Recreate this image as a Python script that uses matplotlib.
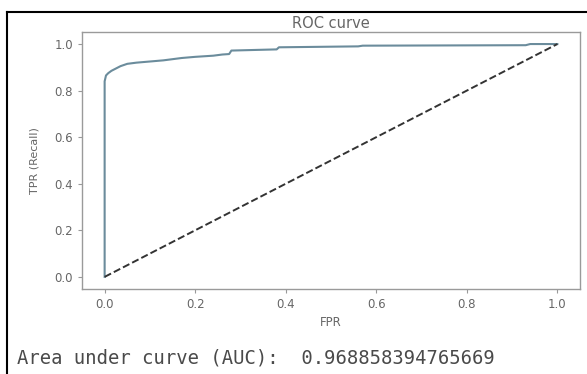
import matplotlib
matplotlib.use("Agg")
import matplotlib.pyplot as plt
from matplotlib.lines import Line2D

# ROC curve points
fpr = [0.0, 0.0, 0.003, 0.008, 0.015, 0.025, 0.035, 0.05, 0.07, 0.10, 0.13, 0.17,
       0.20, 0.24, 0.26, 0.275, 0.28, 0.38, 0.385, 0.56, 0.57, 0.93, 0.94, 1.0]
tpr = [0.0, 0.84, 0.865, 0.875, 0.885, 0.895, 0.905, 0.915, 0.92, 0.925, 0.93, 0.94,
       0.945, 0.95, 0.955, 0.957, 0.972, 0.977, 0.986, 0.99, 0.993, 0.995, 1.0, 1.0]
diag = [0.0, 1.0]
xticks = [0.0, 0.2, 0.4, 0.6, 0.8, 1.0]
yticks = [0.0, 0.2, 0.4, 0.6, 0.8, 1.0]
auc_value = "0.968858394765669"

W, H = 587, 374
fig = plt.figure(figsize=(W / 100, H / 100), dpi=100)
fig.patch.set_facecolor("white")

ax = fig.add_axes([82 / W, 1 - 288.5 / H, (580 - 82) / W, (288.5 - 32.4) / H])
ax.plot(fpr, tpr, color="#6b8c9c", lw=1.5)
ax.plot(diag, diag, color="#333333", ls="--", lw=1.4)
ax.set_xlim(-0.05, 1.05)
ax.set_ylim(-0.05, 1.05)
ax.set_xticks(xticks)
ax.set_yticks(yticks)
ax.set_xticklabels([f"{t:.1f}" for t in xticks])
ax.set_yticklabels([f"{t:.1f}" for t in yticks])
tc = "#666666"
ax.tick_params(colors="#999999", labelcolor=tc, labelsize=8.5, length=3, width=0.8)
for s in ax.spines.values():
    s.set_color("#9a9a9a")
    s.set_linewidth(1.0)
ax.set_title("ROC curve", fontsize=10.5, color="#666666", pad=3)
ax.set_xlabel("FPR", fontsize=8.5, color=tc, labelpad=4)
ax.set_ylabel("TPR (Recall)", fontsize=8, color=tc, labelpad=11)

fig.text(17 / W, 1 - 358 / H, "Area under curve (AUC):  " + auc_value,
         family="DejaVu Sans Mono", fontsize=13.6, color="#4a4a4a",
         va="center", ha="left")

# screenshot frame
fig.add_artist(Line2D([7 / W, 1.0], [1 - 11.5 / H] * 2, color="black", lw=1.5,
                      transform=fig.transFigure))
fig.add_artist(Line2D([7 / W] * 2, [0.0, 1 - 11.5 / H], color="black", lw=1.5,
                      transform=fig.transFigure))

fig.savefig("out.png", dpi=100)
